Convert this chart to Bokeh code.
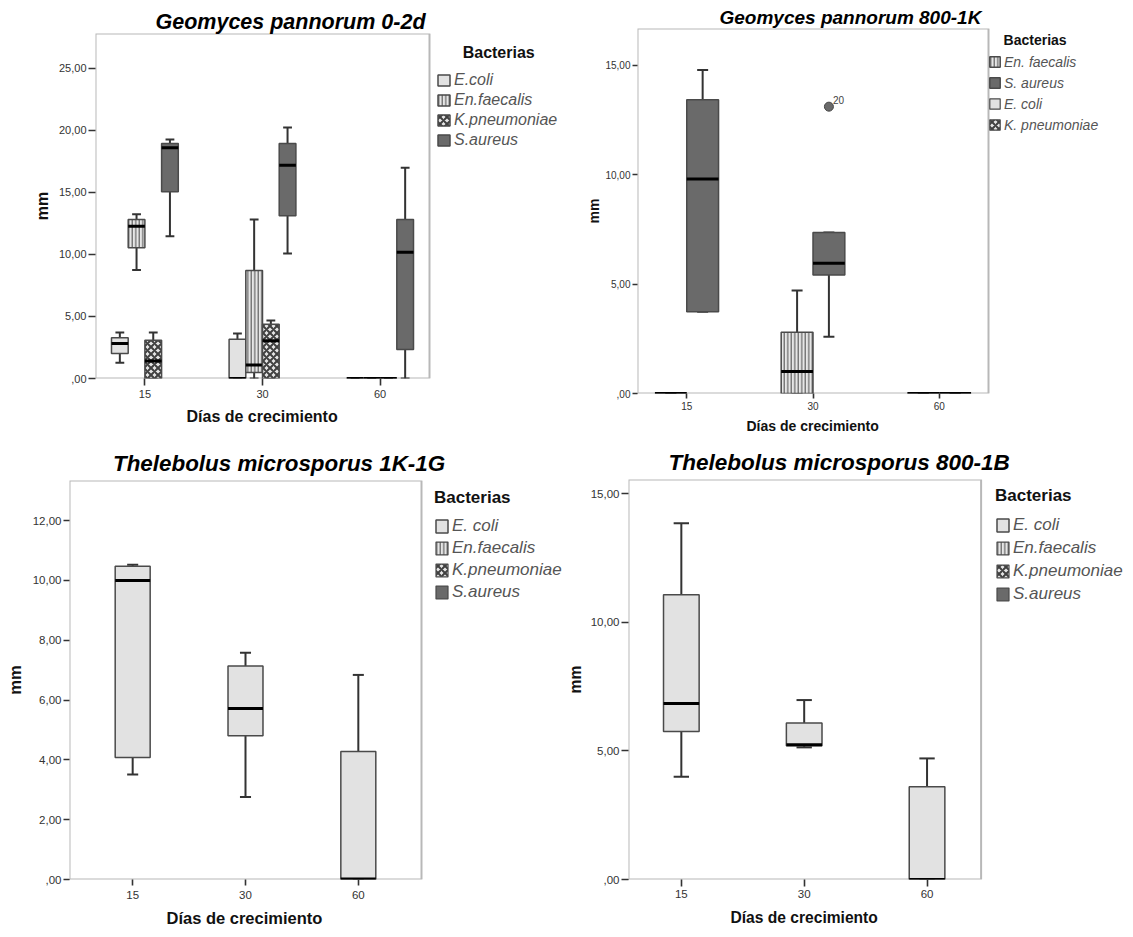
import numpy as np
from bokeh.plotting import figure
from bokeh.models import (ColumnDataSource, Range1d, FixedTicker, CustomJSTickFormatter,
                          Legend, LegendItem, Label, Title)
from bokeh.layouts import row, column
from bokeh.embed import file_html
from bokeh.resources import INLINE

FONT = "Liberation Sans"
NB = "\u00a0"

days = ["15", "30", "60"]
bacteria = ["E.coli", "En.faecalis", "K.pneumoniae", "S.aureus"]

# box statistics per day (15, 30, 60): [min, Q1, median, Q3, max]  (mm)
# Geomyces pannorum 0-2d
gp02_ecoli = [[1.26, 2.02, 2.82, 3.28, 3.71], [0.0, 0.0, 0.0, 3.17, 3.63], [0.0, 0.0, 0.0, 0.0, 0.0]]
gp02_enfae = [[8.74, 10.54, 12.28, 12.82, 13.25], [0.0, 0.48, 1.08, 8.71, 12.82], [0.0, 0.0, 0.0, 0.0, 0.0]]
gp02_kpneu = [[0.0, 0.0, 1.42, 3.09, 3.71], [0.0, 0.0, 3.04, 4.38, 4.68], [0.0, 0.0, 0.0, 0.0, 0.0]]
gp02_saure = [[11.48, 15.05, 18.60, 18.95, 19.27], [10.08, 13.12, 17.20, 18.95, 20.24], [0.0, 2.34, 10.19, 12.82, 17.00]]

# Geomyces pannorum 800-1K
gp8_enfae = [[0.0, 0.0, 0.0, 0.0, 0.0], [0.0, 0.0, 1.00, 2.80, 4.70], [0.0, 0.0, 0.0, 0.0, 0.0]]
gp8_saure = [[3.73, 3.73, 9.80, 13.42, 14.77], [2.59, 5.41, 5.95, 7.35, 7.35], [0.0, 0.0, 0.0, 0.0, 0.0]]
gp8_outlier_day = "30"
gp8_outlier_val = 13.1
gp8_outlier_case = "20"

# Thelebolus microsporus 1K-1G
tm1k_ecoli = [[3.51, 4.08, 10.00, 10.47, 10.52], [2.76, 4.81, 5.72, 7.14, 7.58], [0.0, 0.0, 0.02, 4.28, 6.84]]

# Thelebolus microsporus 800-1B
tm8_ecoli = [[4.00, 5.76, 6.85, 11.08, 13.86], [5.14, 5.20, 5.24, 6.09, 6.98], [0.0, 0.0, 0.0, 3.61, 4.71]]

STYLE = {
    "E.coli": dict(fill_color="#e2e2e2"),
    "En.faecalis": dict(fill_color="#e6e6e6", hatch_pattern="vertical_line", hatch_color="#484848",
                        hatch_scale=3.5, hatch_weight=1),
    "K.pneumoniae": dict(fill_color="#e6e6e6", hatch_pattern="diagonal_cross", hatch_color="#404040",
                         hatch_scale=7, hatch_weight=2),
    "S.aureus": dict(fill_color="#6a6a6a"),
}

fmt = CustomJSTickFormatter(code="""
let s = tick.toFixed(2).replace('.', ',');
if (s.startsWith('0')) { s = s.slice(1); }
return s;
""")


def make_fig(width, height, left, top, bottom, xr, plot_px, ymax, yticks,
             tick_size, tick_out, xmls, lab_size, ystand):
    # the frame runs to the right edge so the legend can sit inside it;
    # the x range is widened so that xr spans exactly plot_px pixels
    frame_px = width - left
    x_end = xr[0] + (xr[1] - xr[0]) * frame_px / plot_px
    p = figure(width=width, height=height, output_backend="svg", toolbar_location=None,
               title=None, x_range=Range1d(xr[0], x_end), y_range=Range1d(0, ymax),
               min_border_left=left, min_border_right=0,
               min_border_top=top, min_border_bottom=bottom, frame_align=False)
    p.grid.visible = False
    p.outline_line_color = None
    p.background_fill_color = "white"
    p.border_fill_color = "white"
    # plot box border
    p.quad(left=[xr[0]], right=[xr[1]], bottom=[0], top=[ymax], fill_color=None,
           line_color="#b8b8b8", line_width=2)
    p.xaxis.ticker = FixedTicker(ticks=list(range(len(days))))
    p.xaxis.major_label_overrides = {i: d for i, d in enumerate(days)}
    p.yaxis.ticker = FixedTicker(ticks=yticks)
    p.yaxis.formatter = fmt
    for ax in (p.xaxis[0], p.yaxis[0]):
        ax.axis_line_color = None
        ax.major_tick_line_color = "#333333"
        ax.major_tick_line_width = 1.6
        ax.major_tick_in = 0
        ax.major_tick_out = tick_out
        ax.minor_tick_line_color = None
        ax.major_label_text_font = FONT
        ax.major_label_text_font_size = tick_size
        ax.major_label_text_color = "#333333"
        ax.major_label_standoff = 2
    p.xaxis.major_label_standoff = xmls
    p.yaxis.axis_label = "mm"
    p.yaxis.axis_label_text_font = FONT
    p.yaxis.axis_label_text_font_style = "bold"
    p.yaxis.axis_label_text_font_size = lab_size
    p.yaxis.axis_label_text_color = "#111111"
    p.yaxis.axis_label_standoff = ystand
    return p


def add_title(p, text, size, offset, standoff):
    p.add_layout(Title(text=text, align="left", offset=offset, standoff=standoff,
                       vertical_align="bottom", text_font=FONT, text_font_style="bold italic",
                       text_font_size=size, text_color="#000000"), "above")


def add_xlabel(p, size, offset, standoff):
    p.add_layout(Title(text="Días de crecimiento", align="left", offset=offset, standoff=standoff,
                       vertical_align="top", text_font=FONT, text_font_style="bold",
                       text_font_size=size, text_color="#111111"), "below")


def draw_box(p, stats, offset, width, capw, name):
    st = np.array(stats, dtype=float)
    x = np.arange(len(days)) + offset
    src = ColumnDataSource(dict(x=x, x0=x - width / 2, x1=x + width / 2,
                                c0=x - capw / 2, c1=x + capw / 2,
                                lo=st[:, 0], q1=st[:, 1], med=st[:, 2], q3=st[:, 3], hi=st[:, 4]))
    wk = dict(source=src, line_color="#333333", line_width=2)
    p.segment("x", "lo", "x", "q1", **wk)
    p.segment("x", "q3", "x", "hi", **wk)
    p.segment("c0", "lo", "c1", "lo", **wk)
    p.segment("c0", "hi", "c1", "hi", **wk)
    r = p.vbar(x="x", width=width, bottom="q1", top="q3", source=src,
               line_color="#4a4a4a", line_width=1.5, **STYLE[name])
    p.segment("x0", "med", "x1", "med", source=src, line_color="#000000", line_width=3)
    return r


def legend_only(p, name):
    # series listed in the legend but without boxes in this panel (kept off-plot)
    return p.vbar(x=[-10], width=0.1, top=[0], bottom=[0], line_color="#4a4a4a",
                  line_width=1.2, **STYLE[name])


def add_legend(p, items, x, y, size, glyph_w, glyph_h, pitch, tsize, tstand, title):
    leg = Legend(items=[LegendItem(label=lab, renderers=[r]) for lab, r in items],
                 location=(x, y), orientation="vertical", border_line_color=None,
                 background_fill_alpha=0, padding=0, margin=0, spacing=0,
                 glyph_width=int(glyph_w), glyph_height=int(glyph_h), label_height=int(round(pitch)),
                 label_standoff=3, label_text_font=FONT, label_text_font_style="italic",
                 label_text_font_size=size, label_text_color="#555555",
                 title=title, title_text_font=FONT, title_text_font_style="bold",
                 title_text_font_size=tsize, title_text_color="#111111",
                 title_standoff=tstand)
    p.add_layout(leg)


# ---------- Panel 1 ----------
p1 = make_fig(568, 440, 95, 33, 62, (-0.42, 2.42), 334, 27.82, [0, 5, 10, 15, 20, 25],
              "11px", 7, 4, "16px", 5)
off1 = [-0.213, -0.071, 0.071, 0.213]
r1 = [draw_box(p1, s, o, 0.142, 0.075, n)
      for s, o, n in zip([gp02_ecoli, gp02_enfae, gp02_kpneu, gp02_saure], off1, bacteria)]
add_title(p1, "Geomyces pannorum 0-2d", "21.5px", 60, 0)
add_xlabel(p1, "16px", 91, 14)
add_legend(p1, list(zip(bacteria, r1)), 341, 228, "16px", 15, 14, 20, "16px", 8, NB * 6 + "Bacterias")

# ---------- Panel 2 ----------
p2 = make_fig(564, 440, 69, 28, 46, (-0.39, 2.39), 351, 16.67, [0, 5, 10, 15],
              "10px", 5, 3, "14px", 0)
ra = draw_box(p2, gp8_enfae, -0.126, 0.252, 0.087, "En.faecalis")
rb = draw_box(p2, gp8_saure, 0.126, 0.252, 0.087, "S.aureus")
ox = days.index(gp8_outlier_day) + 0.126
p2.scatter([ox], [gp8_outlier_val], size=9, fill_color="#6a6a6a", line_color="#444444", line_width=1)
p2.add_layout(Label(x=ox, y=gp8_outlier_val, text=gp8_outlier_case, x_offset=4, y_offset=3,
                    text_font=FONT, text_font_size="10px", text_color="#444444",
                    text_baseline="bottom"))
add_title(p2, "Geomyces pannorum 800-1K", "19px", 82, 2)
add_xlabel(p2, "14px", 109, 10)
add_legend(p2, [("En. faecalis", ra), ("S. aureus", rb),
                ("E. coli", legend_only(p2, "E.coli")),
                ("K. pneumoniae", legend_only(p2, "K.pneumoniae"))],
           351, 258, "14px", 13, 13, 21, "14px", 3, NB * 4 + "Bacterias")

# ---------- Panel 3 ----------
p3 = make_fig(563, 496, 69, 40, 57, (-0.56, 2.56), 352, 13.34, [0, 2, 4, 6, 8, 10, 12],
              "11.5px", 6, 5, "16.5px", 6)
r3 = draw_box(p3, tm1k_ecoli, 0.0, 0.31, 0.098, "E.coli")
add_title(p3, "Thelebolus microsporus 1K-1G", "22.4px", 43.5, 10)
add_xlabel(p3, "16.5px", 97, 14)
add_legend(p3, [("E. coli", r3), ("En.faecalis", legend_only(p3, "En.faecalis")),
                ("K.pneumoniae", legend_only(p3, "K.pneumoniae")),
                ("S.aureus", legend_only(p3, "S.aureus"))],
           365, 276, "17px", 15, 16, 22, "17px", 7, "Bacterias")

# ---------- Panel 4 ----------
p4 = make_fig(569, 496, 63, 39, 57, (-0.43, 2.44), 354, 15.56, [0, 5, 10, 15],
              "11.5px", 7, 3, "15.6px", 4)
r4 = draw_box(p4, tm8_ecoli, 0.0, 0.29, 0.125, "E.coli")
add_title(p4, "Thelebolus microsporus 800-1B", "22.5px", 40, 10)
add_xlabel(p4, "15.6px", 102, 16)
add_legend(p4, [("E. coli", r4), ("En.faecalis", legend_only(p4, "En.faecalis")),
                ("K.pneumoniae", legend_only(p4, "K.pneumoniae")),
                ("S.aureus", legend_only(p4, "S.aureus"))],
           367, 274, "17px", 15, 16, 23, "17px", 7, "Bacterias")

layout = column(row(p1, p2), row(p3, p4))
open("out.html", "w").write(file_html(layout, INLINE))
